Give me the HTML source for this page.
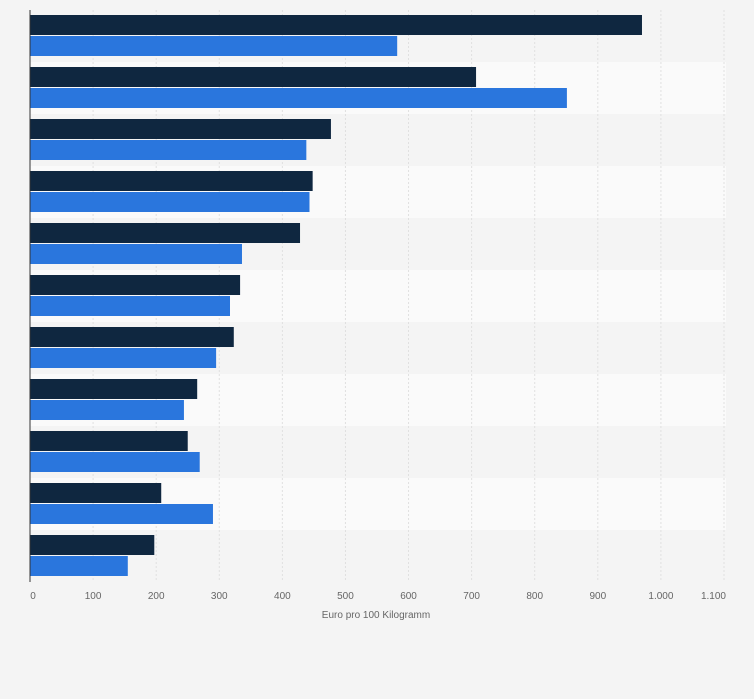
<!DOCTYPE html>
<html><head><meta charset="utf-8"><style>
body{margin:0;background:#f4f4f4;font-family:"Liberation Sans",sans-serif;}
svg{display:block}
</style></head><body>
<svg id="chart" width="754" height="699" xmlns="http://www.w3.org/2000/svg">
<rect x="0" y="0" width="754" height="699" fill="#f4f4f4"/>
<g id="bands"></g><g id="grid"></g><g id="bars"></g><g id="ticks"></g>
<line x1="30" y1="10" x2="30" y2="582" stroke="#333" stroke-width="1"/>
<text x="376" y="618" font-size="10" fill="#666" text-anchor="middle">Euro pro 100 Kilogramm</text>
</svg>
<script>
const categories = ["c1","c2","c3","c4","c5","c6","c7","c8","c9","c10","c11"];
const series1 = [970,707,477,448,428,333,323,265,250,208,197];
const series2 = [582,851,438,443,336,317,295,244,269,290,155];
const tickValues = [0,100,200,300,400,500,600,700,800,900,1000,1100];
const tickLabels = ["0","100","200","300","400","500","600","700","800","900","1.000","1.100"];
const NS="http://www.w3.org/2000/svg";
const plotX0=30, pxPer=694/1100, plotTop=10, bandH=52;
const xs=v=>plotX0+v*pxPer;
const yb=i=>plotTop+i*bandH;
function mk(tag,attrs,parent){const e=document.createElementNS(NS,tag);for(const k in attrs)e.setAttribute(k,attrs[k]);document.getElementById(parent).appendChild(e);return e;}
categories.forEach((c,i)=>{
  const b=mk('rect',{x:30,y:yb(i),width:696,height:bandH,fill:i%2?'#fafafa':'#f4f4f4'},'bands');
  
  
});
tickValues.forEach((v,i)=>{
  if(v>0){const g=mk('line',{x1:xs(v),x2:xs(v),y1:10,y2:582,stroke:'#e0e0e0','stroke-dasharray':'2,2'},'grid');
  
  }
  const last=i===tickValues.length-1;
  const t=mk('text',{x:xs(v)+(i===0?3:(last?2:0)),y:599,'font-size':10,fill:'#666','text-anchor':last?'end':'middle'},'ticks');
  t.textContent=tickLabels[i];
  
  
});
categories.forEach((c,i)=>{
  const a=mk('rect',{x:30,y:yb(i)+5,width:xs(series1[i])-30,height:20,fill:'#0f2740'},'bars');
  
  
  const b=mk('rect',{x:30,y:yb(i)+26,width:xs(series2[i])-30,height:20,fill:'#2a76dd'},'bars');
  
  
});
</script>
</body></html>
